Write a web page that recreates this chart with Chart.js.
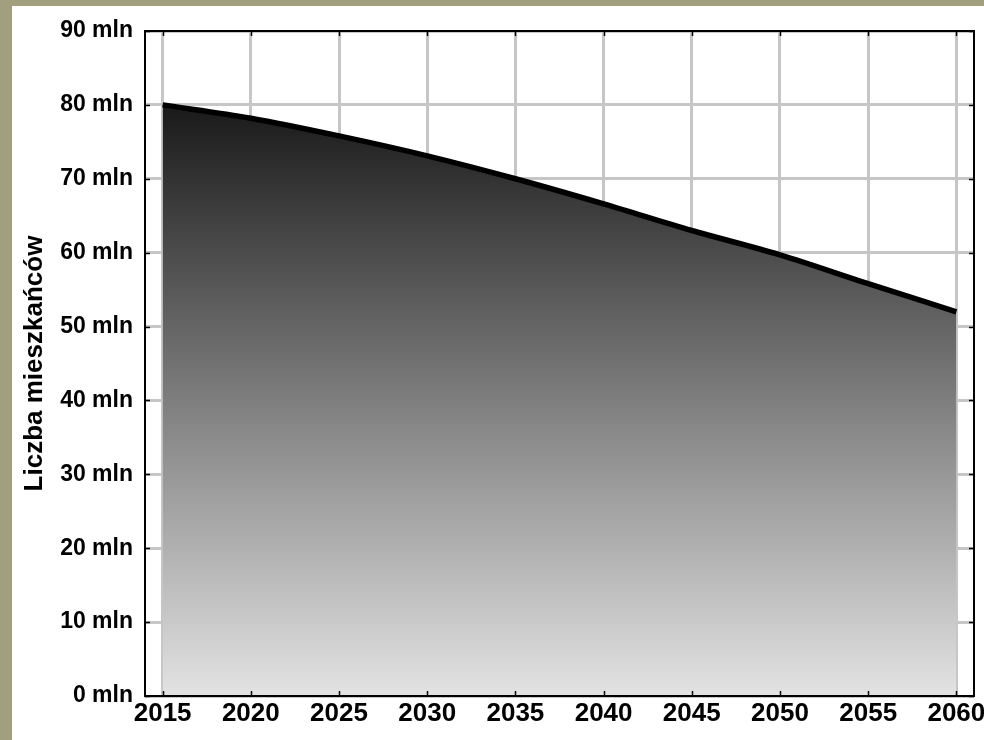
<!DOCTYPE html>
<html>
<head>
<meta charset="utf-8">
<script src="https://cdn.jsdelivr.net/npm/chart.js@4"></script>
<style>
  html, body { margin: 0; padding: 0; }
  body { width: 984px; height: 740px; background: #a19f7d; position: relative; overflow: hidden; }
  #wrap { position: absolute; left: 12px; top: 6px; width: 972px; height: 734px; background: #fff; overflow: hidden; }
</style>
</head>
<body>
<div id="wrap"><canvas id="chart" width="972" height="734"></canvas></div>
<script>
// dane: prognoza liczby mieszkańców (mln)
const years = [2015, 2020, 2025, 2030, 2035, 2040, 2045, 2050, 2055, 2060];
const population = [80.0, 78.2, 75.8, 73.1, 70.0, 66.6, 63.0, 59.7, 55.8, 52.0];
const yTicks = [0, 10, 20, 30, 40, 50, 60, 70, 80, 90];
const yTitle = 'Liczba mieszkańców';

const labelFont = "'Liberation Sans', Arial, sans-serif";

// ramka wykresu + małe kreski skali do wewnątrz
const frame = {
  id: 'frame',
  afterDraw(chart) {
    const { ctx, chartArea: a, scales: { x, y } } = chart;
    ctx.save();
    ctx.strokeStyle = '#000';
    ctx.lineWidth = 2;
    ctx.strokeRect(a.left, a.top, a.right - a.left, a.bottom - a.top);
    ctx.lineWidth = 1.5;
    ctx.beginPath();
    x.ticks.forEach(t => {
      const px = Math.round(x.getPixelForValue(t.value)) + 0.5;
      ctx.moveTo(px, a.bottom); ctx.lineTo(px, a.bottom - 5);
      ctx.moveTo(px, a.top); ctx.lineTo(px, a.top + 5);
    });
    y.ticks.forEach(t => {
      const py = Math.round(y.getPixelForValue(t.value)) + 0.5;
      ctx.moveTo(a.left, py); ctx.lineTo(a.left + 5, py);
      ctx.moveTo(a.right, py); ctx.lineTo(a.right - 5, py);
    });
    ctx.stroke();
    ctx.restore();
  }
};

new Chart(document.getElementById('chart').getContext('2d'), {
  type: 'line',
  data: {
    datasets: [{
      data: years.map((yr, i) => ({ x: yr, y: population[i] })),
      borderColor: '#000',
      borderWidth: 5.5,
      pointRadius: 0,
      cubicInterpolationMode: 'monotone',
      fill: 'origin',
      backgroundColor: ctx => {
        const a = ctx.chart.chartArea;
        if (!a) return '#555';
        const g = ctx.chart.ctx.createLinearGradient(0, a.top, 0, a.bottom);
        g.addColorStop(0, '#000000');
        g.addColorStop(1, '#e3e3e3');
        return g;
      }
    }]
  },
  options: {
    responsive: false,
    animation: false,
    layout: { padding: { top: 25, right: 10, left: 0, bottom: 0 } },
    plugins: { legend: { display: false }, tooltip: { enabled: false } },
    scales: {
      x: {
        type: 'linear',
        min: 2014,
        max: 2061,
        afterBuildTicks: s => { s.ticks = years.map(v => ({ value: v })); },
        afterFit: s => { s.height = 44; s.paddingLeft = 0; s.paddingRight = 0; },
        grid: { color: '#c6c6c6', lineWidth: 3, drawTicks: false },
        border: { display: false },
        ticks: {
          autoSkip: false,
          maxRotation: 0,
          padding: 2,
          color: '#000',
          font: { family: labelFont, size: 26, weight: 'bold' },
          callback: v => String(v)
        }
      },
      y: {
        min: 0,
        max: 90,
        afterBuildTicks: s => { s.ticks = yTicks.map(v => ({ value: v })); },
        afterFit: s => { s.width = 133; s.paddingTop = 0; s.paddingBottom = 0; },
        grid: { color: '#c6c6c6', lineWidth: 3, drawTicks: false },
        border: { display: false },
        ticks: {
          padding: 12,
          color: '#000',
          font: { family: labelFont, size: 23, weight: 'bold' },
          callback: v => v + ' mln'
        },
        title: {
          display: true,
          text: yTitle,
          color: '#000',
          padding: { top: 7, bottom: 0 },
          font: { family: labelFont, size: 26, weight: 'bold' }
        }
      }
    }
  },
  plugins: [frame]
});
</script>
</body>
</html>
